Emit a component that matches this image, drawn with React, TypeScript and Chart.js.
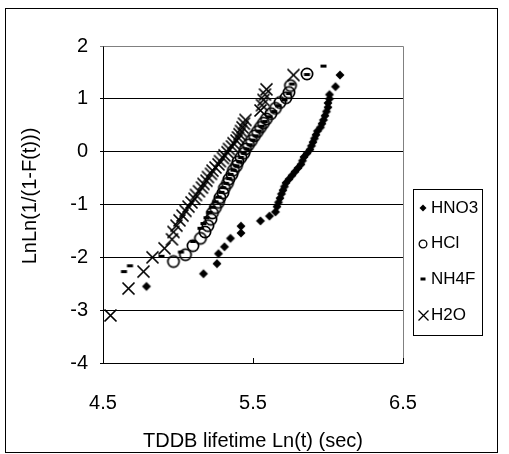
import React, { useEffect, useRef } from 'react';
import { Chart, registerables } from 'chart.js';
Chart.register(...registerables);

const seriesNames = ['HNO3', 'HCl', 'NH4F', 'H2O'];
const xTickValues = [4.5, 5.5, 6.5];
const yTickValues = [-4, -3, -2, -1, 0, 1, 2];
const xTitle = 'TDDB lifetime Ln(t) (sec)';
const yTitle = 'LnLn(1/(1-F(t)))';

const hno3X = [4.79, 5.17, 5.26, 5.27, 5.31, 5.35, 5.42, 5.42, 5.55, 5.61, 5.65, 5.66, 5.67, 5.68, 5.69, 5.70, 5.71, 5.72, 5.74, 5.76, 5.78, 5.80, 5.82, 5.83, 5.84, 5.86, 5.88, 5.89, 5.90, 5.91, 5.92, 5.93, 5.95, 5.96, 5.97, 5.98, 5.99, 6.00, 6.00, 6.01, 6.01, 6.05, 6.08];
const hno3Y = [-2.55, -2.31, -2.12, -1.93, -1.80, -1.64, -1.54, -1.41, -1.31, -1.22, -1.14, -1.04, -0.96, -0.88, -0.80, -0.73, -0.66, -0.59, -0.52, -0.45, -0.38, -0.31, -0.24, -0.17, -0.10, -0.03, 0.04, 0.11, 0.18, 0.25, 0.32, 0.39, 0.46, 0.53, 0.60, 0.68, 0.76, 0.84, 0.92, 1.00, 1.08, 1.23, 1.45];

const hclX = [4.97, 5.05, 5.10, 5.15, 5.18, 5.20, 5.22, 5.23, 5.25, 5.27, 5.28, 5.30, 5.31, 5.33, 5.34, 5.36, 5.37, 5.39, 5.40, 5.42, 5.44, 5.45, 5.47, 5.49, 5.51, 5.53, 5.55, 5.57, 5.59, 5.62, 5.65, 5.68, 5.72, 5.74, 5.75, 5.86];
const hclY = [-2.08, -1.95, -1.78, -1.64, -1.52, -1.40, -1.28, -1.16, -1.06, -0.96, -0.87, -0.78, -0.69, -0.60, -0.52, -0.43, -0.35, -0.27, -0.19, -0.11, -0.03, 0.05, 0.13, 0.21, 0.30, 0.38, 0.46, 0.54, 0.62, 0.72, 0.82, 0.93, 1.02, 1.12, 1.25, 1.47];

const nh4fX = [4.64, 4.68, 4.89, 5.02, 5.10, 5.15, 5.17, 5.19, 5.21, 5.23, 5.25, 5.27, 5.29, 5.30, 5.32, 5.34, 5.35, 5.37, 5.39, 5.41, 5.42, 5.44, 5.46, 5.48, 5.50, 5.52, 5.54, 5.56, 5.58, 5.61, 5.64, 5.67, 5.71, 5.74, 5.76, 5.86, 5.97];
const nh4fY = [-2.27, -2.16, -1.98, -1.90, -1.70, -1.45, -1.36, -1.25, -1.15, -1.05, -0.95, -0.86, -0.77, -0.68, -0.60, -0.51, -0.43, -0.35, -0.27, -0.19, -0.11, -0.03, 0.05, 0.13, 0.22, 0.30, 0.39, 0.48, 0.57, 0.66, 0.76, 0.87, 0.98, 1.10, 1.28, 1.46, 1.62];

const h2oX = [4.55, 4.67, 4.77, 4.83, 4.91, 4.96, 4.97, 4.99, 5.01, 5.03, 5.05, 5.07, 5.09, 5.11, 5.12, 5.14, 5.16, 5.17, 5.19, 5.20, 5.22, 5.23, 5.25, 5.27, 5.28, 5.30, 5.31, 5.33, 5.34, 5.36, 5.37, 5.39, 5.40, 5.41, 5.42, 5.43, 5.44, 5.45, 5.55, 5.56, 5.57, 5.58, 5.59, 5.77];
const h2oY = [-3.10, -2.59, -2.27, -2.00, -1.83, -1.66, -1.52, -1.40, -1.30, -1.21, -1.12, -1.04, -0.96, -0.89, -0.82, -0.75, -0.68, -0.61, -0.55, -0.48, -0.42, -0.36, -0.30, -0.24, -0.18, -0.12, -0.07, -0.01, 0.05, 0.10, 0.16, 0.21, 0.27, 0.33, 0.39, 0.46, 0.53, 0.60, 0.78, 0.88, 0.98, 1.08, 1.18, 1.45];

const FONT = '"Liberation Sans", Arial, sans-serif';

function makeMarker(kind: string, size: number, lw: number): HTMLCanvasElement {
  const c = document.createElement('canvas');
  const s = Math.ceil(size) + 3;
  c.width = s;
  c.height = s;
  const g = c.getContext('2d') as CanvasRenderingContext2D;
  const m = s / 2;
  g.fillStyle = '#000';
  g.strokeStyle = '#000';
  const r = size / 2;
  if (kind === 'diamond') {
    g.beginPath();
    g.moveTo(m, m - r);
    g.lineTo(m + r, m);
    g.lineTo(m, m + r);
    g.lineTo(m - r, m);
    g.closePath();
    g.fill();
  } else if (kind === 'circle') {
    g.lineWidth = lw;
    g.beginPath();
    g.arc(m, m, r - lw / 2, 0, Math.PI * 2);
    g.stroke();
  } else if (kind === 'dash') {
    g.fillRect(m - r, m - 1.5, size, 3);
  } else if (kind === 'x') {
    g.lineWidth = lw;
    g.beginPath();
    g.moveTo(m - r, m - r);
    g.lineTo(m + r, m + r);
    g.moveTo(m + r, m - r);
    g.lineTo(m - r, m + r);
    g.stroke();
  }
  return c;
}

function toPoints(xs: number[], ys: number[]) {
  return xs.map((x, i) => ({ x, y: ys[i] }));
}

export default function App() {
  const ref = useRef<HTMLCanvasElement | null>(null);

  useEffect(() => {
    document.body.style.margin = '0';
    const canvas = ref.current;
    if (!canvas) return;

    const kinds = ['diamond', 'circle', 'dash', 'x'];
    const plotSizes = [9, 13, 6, 12];
    const plotLw = [1, 1.7, 1, 1.7];
    const legendSizes = [7, 9, 5, 10];
    const legendLw = [1, 1.3, 1, 1.3];
    const plotMarkers = kinds.map((k, i) => makeMarker(k, plotSizes[i], plotLw[i]));
    const legendMarkers = kinds.map((k, i) => makeMarker(k, legendSizes[i], legendLw[i]));
    const xsAll = [hno3X, hclX, nh4fX, h2oX];
    const ysAll = [hno3Y, hclY, nh4fY, h2oY];

    const decor = {
      id: 'decor',
      afterDraw(chart: any) {
        const ctx = chart.ctx as CanvasRenderingContext2D;
        const area = chart.chartArea;
        const xs = chart.scales.x;
        ctx.save();
        // plot area grey top/right border
        ctx.strokeStyle = '#808080';
        ctx.lineWidth = 1;
        ctx.beginPath();
        ctx.moveTo(Math.round(area.left) + 0.5, Math.round(area.top) + 0.5);
        ctx.lineTo(Math.round(area.right) + 0.5, Math.round(area.top) + 0.5);
        ctx.lineTo(Math.round(area.right) + 0.5, Math.round(area.bottom) + 0.5);
        ctx.stroke();
        // x inside tick marks
        ctx.strokeStyle = '#000';
        ctx.beginPath();
        xTickValues.forEach((v) => {
          const px = Math.round(xs.getPixelForValue(v)) + 0.5;
          ctx.moveTo(px, area.bottom);
          ctx.lineTo(px, area.bottom - 5);
        });
        ctx.stroke();
        // y axis title
        ctx.fillStyle = '#000';
        ctx.font = '20px ' + FONT;
        ctx.textAlign = 'center';
        ctx.textBaseline = 'middle';
        ctx.save();
        ctx.translate(30, 196);
        ctx.rotate(-Math.PI / 2);
        ctx.fillText(yTitle, 0, 0);
        ctx.restore();
        // outer frame
        ctx.strokeStyle = '#000';
        ctx.lineWidth = 1;
        ctx.strokeRect(5.5, 8.5, 492, 444);
        // legend
        ctx.strokeRect(413.5, 189.5, 69, 146);
        ctx.font = '17px ' + FONT;
        ctx.textBaseline = 'middle';
        ctx.textAlign = 'left';
        seriesNames.forEach((name, i) => {
          const y = 208 + i * 35.7;
          const img = legendMarkers[i];
          ctx.drawImage(img, Math.round(423 - img.width / 2), Math.round(y - img.height / 2));
          ctx.fillText(name, 431, y);
        });
        ctx.restore();
      },
    };

    const chart = new Chart(canvas, {
      type: 'scatter',
      data: {
        datasets: seriesNames.map((name, i) => ({
          label: name,
          data: toPoints(xsAll[i], ysAll[i]),
          pointStyle: plotMarkers[i] as any,
          pointRadius: 5,
          pointHoverRadius: 5,
          showLine: false,
        })),
      },
      options: {
        animation: false,
        responsive: false,
        events: [],
        layout: { padding: { left: 0, right: 106, top: 46, bottom: 0 } },
        plugins: { legend: { display: false }, tooltip: { enabled: false } },
        scales: {
          x: {
            type: 'linear',
            min: 4.5,
            max: 6.5,
            afterBuildTicks: (axis: any) => {
              axis.ticks = xTickValues.map((v) => ({ value: v }));
            },
            afterFit: (axis: any) => {
              axis.height = 91;
            },
            grid: { display: true, drawOnChartArea: false, drawTicks: false, color: '#000' },
            border: { display: true, color: '#000', width: 1 },
            ticks: {
              padding: 28,
              color: '#000',
              font: { family: FONT, size: 20 },
              maxRotation: 0,
              callback: (v: any) => Number(v).toFixed(1),
            },
            title: {
              display: true,
              text: xTitle,
              color: '#000',
              font: { family: FONT, size: 20 },
              padding: { top: 0, bottom: 1 },
            },
          },
          y: {
            type: 'linear',
            min: -4,
            max: 2,
            afterBuildTicks: (axis: any) => {
              axis.ticks = yTickValues.map((v) => ({ value: v }));
            },
            afterFit: (axis: any) => {
              axis.width = 103;
            },
            grid: {
              color: (c: any) => (c.tick && c.tick.value === 2 ? '#808080' : '#000'),
              lineWidth: 1,
              drawTicks: true,
              tickLength: 3,
            },
            border: { display: true, color: '#000', width: 1 },
            ticks: {
              padding: 12,
              color: '#000',
              font: { family: FONT, size: 20 },
              callback: (v: any) => String(v),
            },
          },
        },
      },
      plugins: [decor],
    });

    return () => chart.destroy();
  }, []);

  return (
    <div style={{ width: 509, height: 454 }}>
      <canvas ref={ref} width={509} height={454} style={{ display: 'block', width: 509, height: 454 }} />
    </div>
  );
}
